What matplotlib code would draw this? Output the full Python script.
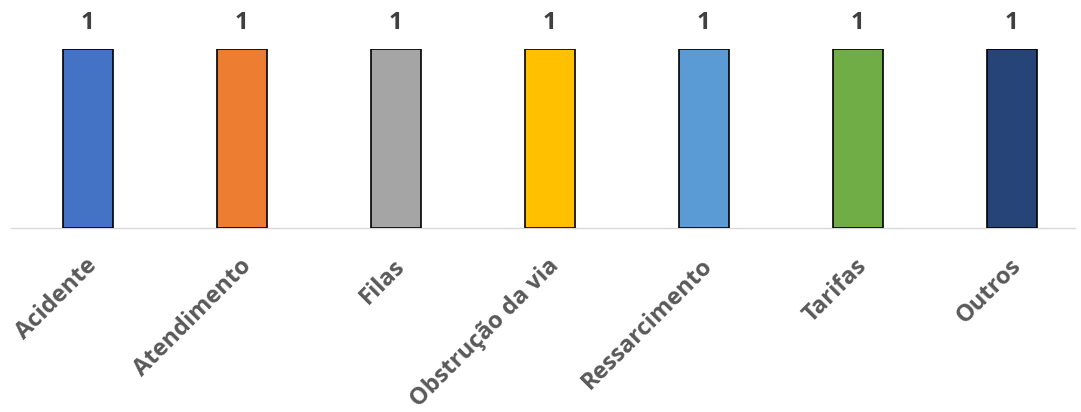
import matplotlib
matplotlib.use("Agg")
import matplotlib.pyplot as plt
from matplotlib.transforms import offset_copy

categories = ["Acidente", "Atendimento", "Filas", "Obstrução da via",
              "Ressarcimento", "Tarifas", "Outros"]
values = [1, 1, 1, 1, 1, 1, 1]
colors = ["#4472C4", "#ED7D31", "#A5A5A5", "#FFC000", "#5B9BD5", "#70AD47", "#264478"]

W, H = 1081, 412
fig = plt.figure(figsize=(W / 100, H / 100), dpi=100)
ax = fig.add_axes([11 / W, (H - 228) / H, (1075 - 11) / W, (228 - 49) / H])

x = list(range(len(categories)))
ax.bar(x, values, width=0.325, color=colors, edgecolor="black", linewidth=1.2, zorder=3)
ax.set_xlim(-0.5, 6.41)
ax.set_ylim(0, 1)

for s in ["top", "right", "left"]:
    ax.spines[s].set_visible(False)
ax.spines["bottom"].set_color("#D9D9D9")
ax.spines["bottom"].set_linewidth(1.0)
ax.set_yticks([])
ax.set_xticks(x)
ax.set_xticklabels([])
ax.tick_params(axis="x", length=0)

font = "Open Sans"
for xi, cat, v in zip(x, categories, values):
    ax.text(xi, v, str(v), ha="center", va="center", fontsize=17.5, fontweight="bold",
            color="#404040", family=font,
            transform=offset_copy(ax.transData, fig=fig, x=0, y=26, units="dots"),
            clip_on=False)
    ax.text(xi, 0, cat, ha="right", va="top", rotation=45, rotation_mode="anchor",
            fontsize=17, fontweight="bold", color="#595959", family=font,
            transform=offset_copy(ax.transData, fig=fig, x=-3, y=-26, units="dots"),
            clip_on=False)

fig.savefig("out.png", dpi=100)
